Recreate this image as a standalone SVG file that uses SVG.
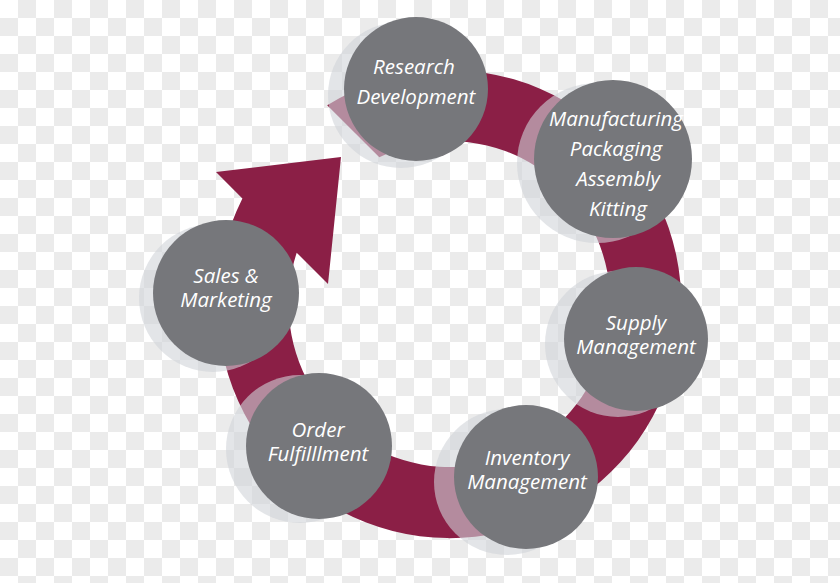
<svg xmlns="http://www.w3.org/2000/svg" width="840" height="583" viewBox="0 0 840 583">
<defs>
<pattern id="checker" x="0" y="0" width="36" height="36" patternUnits="userSpaceOnUse">
<rect width="36" height="36" fill="#ffffff"/>
<rect x="18" y="0" width="18" height="18" fill="#ebebeb"/>
<rect x="0" y="18" width="18" height="18" fill="#ebebeb"/>
</pattern>
<style>
.shadow{fill:#d0d3d9;fill-opacity:0.6}
.disc{fill:#76777b}
.lbl{fill:#ffffff;font-family:"Open Sans","Noto Sans","DejaVu Sans",sans-serif;font-style:italic;font-size:20.5px;text-anchor:middle}
</style>
</defs>
<rect width="840" height="583" fill="url(#checker)"/>
<g id="connectors">
<path d="M327.2,105.2 A232,234 0 1 1 242.4,198.4 L216,172 L341,157 L328,284 L296.7,252.7 A161,163 0 1 0 379.3,157.3 Z" fill="#8b1f46"/>
</g>
<g id="research">
<circle class="shadow" cx="401" cy="95" r="73"/>
<circle class="disc" cx="416" cy="89" r="72"/>
<text class="lbl" x="414" y="74">Research</text>
<text class="lbl" x="416" y="104">Development</text>
</g>
<g id="manufacturing">
<circle class="shadow" cx="597" cy="163" r="80"/>
<circle class="disc" cx="613" cy="159" r="79"/>
<text class="lbl" x="616" y="126">Manufacturing</text>
<text class="lbl" x="616" y="156">Packaging</text>
<text class="lbl" x="618" y="186">Assembly</text>
<text class="lbl" x="618" y="216">Kitting</text>
</g>
<g id="supply">
<circle class="shadow" cx="618" cy="344" r="73"/>
<circle class="disc" cx="636" cy="339" r="72"/>
<text class="lbl" x="636" y="330">Supply</text>
<text class="lbl" x="636" y="354">Management</text>
</g>
<g id="inventory">
<circle class="shadow" cx="507" cy="482" r="73"/>
<circle class="disc" cx="526" cy="477" r="72"/>
<text class="lbl" x="527" y="465">Inventory</text>
<text class="lbl" x="527" y="489">Management</text>
</g>
<g id="order">
<circle class="shadow" cx="300" cy="449" r="74"/>
<circle class="disc" cx="319" cy="446" r="73"/>
<text class="lbl" x="318" y="437">Order</text>
<text class="lbl" x="318" y="461">Fulfilllment</text>
</g>
<g id="sales">
<circle class="shadow" cx="213" cy="298" r="74"/>
<circle class="disc" cx="226" cy="293" r="73"/>
<text class="lbl" x="226" y="283">Sales &amp;</text>
<text class="lbl" x="226" y="307">Marketing</text>
</g>
</svg>
